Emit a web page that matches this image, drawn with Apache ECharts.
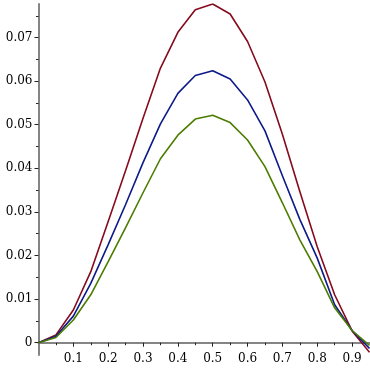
<!DOCTYPE html>
<html>
<head>
<meta charset="utf-8">
<script src="https://cdn.jsdelivr.net/npm/echarts@6/dist/echarts.min.js"></script>
<style>html,body{margin:0;padding:0;background:#fff;}#c{width:370px;height:370px;}</style>
</head>
<body>
<div id="c"></div>
<script>
var xs = [0, 0.05, 0.1, 0.15, 0.2, 0.25, 0.3, 0.35, 0.4, 0.45, 0.5, 0.55, 0.6, 0.65, 0.7, 0.75, 0.8, 0.85, 0.9, 0.95];
var redVals = [0, 0.0018, 0.0075, 0.0163, 0.0278, 0.0395, 0.0515, 0.0630, 0.0712, 0.0764, 0.0777, 0.0754, 0.0691, 0.0598, 0.0478, 0.0347, 0.0220, 0.0110, 0.0027, -0.0022];
var blueVals = [0, 0.0015, 0.0061, 0.0136, 0.0225, 0.0317, 0.0413, 0.0502, 0.0572, 0.0613, 0.0624, 0.0605, 0.0557, 0.0486, 0.0383, 0.0283, 0.0194, 0.0087, 0.0028, -0.0013];
var greenVals = [0, 0.0012, 0.0052, 0.0110, 0.0186, 0.0264, 0.0344, 0.0422, 0.0476, 0.0513, 0.0522, 0.0505, 0.0465, 0.0404, 0.0321, 0.0236, 0.0163, 0.0080, 0.0028, -0.0006];
var xMajorTicks = [0.1, 0.2, 0.3, 0.4, 0.5, 0.6, 0.7, 0.8, 0.9];
var xMinorTicks = [0.05, 0.15, 0.25, 0.35, 0.45, 0.55, 0.65, 0.75, 0.85];
var yMajorTicks = [0, 0.01, 0.02, 0.03, 0.04, 0.05, 0.06, 0.07];
var yMinorTicks = [0.005, 0.015, 0.025, 0.035, 0.045, 0.055, 0.065, 0.075];

function pairs(v) { return xs.map(function (x, i) { return [x, v[i]]; }); }
function fmt(v) { return v === 0 ? '0' : String(Math.round(v * 1000) / 1000); }

var axisColor = '#858585';
var font = { fontFamily: "'DejaVu Serif', 'Liberation Serif', serif", fontSize: 12, color: '#000' };

var chart = echarts.init(document.getElementById('c'));
chart.setOption({
  animation: false,
  backgroundColor: '#fff',
  grid: { left: 38.5, top: 4, width: 331, height: 351, containLabel: false, outerBoundsMode: 'none' },
  xAxis: [
    {
      type: 'value', min: 0, max: 0.95, position: 'bottom',
      axisLine: { show: true, onZero: true, lineStyle: { color: axisColor, width: 2 } },
      axisTick: { show: true, length: 4, customValues: xMajorTicks, lineStyle: { color: '#222', width: 1 } },
      axisLabel: Object.assign({ customValues: xMajorTicks, margin: -2, formatter: fmt }, font),
      splitLine: { show: false }
    },
    {
      type: 'value', min: 0, max: 0.95, position: 'bottom',
      axisLine: { show: false, onZero: true },
      axisTick: { show: true, length: 2.5, customValues: xMinorTicks, lineStyle: { color: '#222', width: 1 } },
      axisLabel: { show: false },
      splitLine: { show: false }
    }
  ],
  yAxis: [
    {
      type: 'value', min: -0.00282, max: 0.0777, position: 'left',
      axisLine: { show: true, onZero: false, lineStyle: { color: axisColor, width: 2 } },
      axisTick: { show: true, length: 4, customValues: yMajorTicks, lineStyle: { color: '#222', width: 1 } },
      axisLabel: Object.assign({ customValues: yMajorTicks, margin: 6, formatter: fmt }, font),
      splitLine: { show: false }
    },
    {
      type: 'value', min: -0.00282, max: 0.0777, position: 'left', offset: 0,
      axisLine: { show: false, onZero: false },
      axisTick: { show: true, length: 2.5, customValues: yMinorTicks, lineStyle: { color: '#222', width: 1 } },
      axisLabel: { show: false },
      splitLine: { show: false }
    }
  ],
  series: [
    { type: 'line', data: pairs(redVals), symbol: 'none', lineStyle: { color: '#860a1e', width: 1.6 }, z: 3 },
    { type: 'line', data: pairs(blueVals), symbol: 'none', lineStyle: { color: '#0c1a8a', width: 1.6 }, z: 3 },
    { type: 'line', data: pairs(greenVals), symbol: 'none', lineStyle: { color: '#4c7c00', width: 1.6 }, z: 3 }
  ]
});
</script>
</body>
</html>
